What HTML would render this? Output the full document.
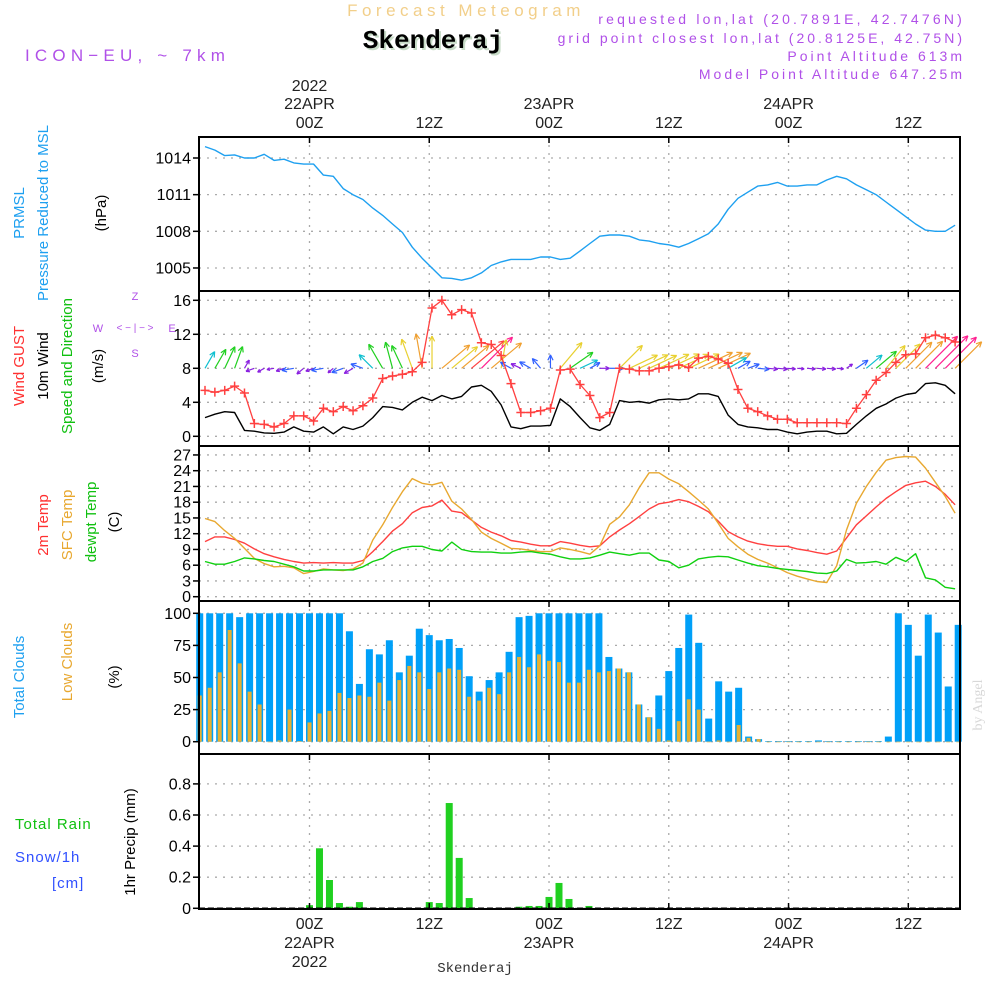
<!DOCTYPE html>
<html><head><meta charset="utf-8"><style>
html,body{margin:0;padding:0;background:#fff;}
svg{display:block;font-family:"Liberation Sans",sans-serif;}
</style></head><body>
<svg id="chart" width="1000" height="1000" viewBox="0 0 1000 1000" xmlns="http://www.w3.org/2000/svg">
<rect width="1000" height="1000" fill="#fff"/>
<g>
<text x="466" y="16" text-anchor="middle" font-size="17" letter-spacing="4.5" fill="#f2cf8a">Forecast Meteogram</text>
<text x="435" y="50" text-anchor="middle" font-size="26" font-weight="bold" font-family="Liberation Mono, monospace" fill="#c8dcc8">Skenderaj</text>
<text x="433" y="48" text-anchor="middle" font-size="26" font-weight="bold" font-family="Liberation Mono, monospace" fill="#000">Skenderaj</text>
<text x="25" y="61" font-size="17" letter-spacing="5.2" fill="#b050e8">ICON−EU, ~ 7km</text>
<text x="965" y="24" text-anchor="end" font-size="14" letter-spacing="3.2" fill="#b050e8">requested lon,lat (20.7891E, 42.7476N)</text>
<text x="965" y="43" text-anchor="end" font-size="14" letter-spacing="3.0" fill="#b050e8">grid point closest lon,lat (20.8125E, 42.75N)</text>
<text x="965" y="61" text-anchor="end" font-size="14" letter-spacing="3.0" fill="#b050e8">Point Altitude 613m</text>
<text x="965" y="79" text-anchor="end" font-size="14" letter-spacing="3.0" fill="#b050e8">Model Point Altitude 647.25m</text>
</g>
<g id="grid"></g>
<g id="marks"></g>
<g id="frames"></g>
<g id="labels"></g>
<g font-size="15">
<text transform="translate(24,213) rotate(-90)" text-anchor="middle" fill="#1ea0f0">PRMSL</text>
<text transform="translate(48,213) rotate(-90)" text-anchor="middle" fill="#1ea0f0">Pressure Reduced to MSL</text>
<text transform="translate(106,213) rotate(-90)" text-anchor="middle" fill="#000">(hPa)</text>
<text transform="translate(24,366) rotate(-90)" text-anchor="middle" fill="#ff3030">Wind GUST</text>
<text transform="translate(48,366) rotate(-90)" text-anchor="middle" fill="#000">10m Wind</text>
<text transform="translate(72,366) rotate(-90)" text-anchor="middle" fill="#10c010">Speed and Direction</text>
<text transform="translate(103,366) rotate(-90)" text-anchor="middle" fill="#000">(m/s)</text>
<g fill="#b050e8" font-size="11">
<text x="135" y="300" text-anchor="middle">Z</text>
<text x="98" y="332" text-anchor="middle">W</text>
<text x="172" y="332" text-anchor="middle">E</text>
<text x="135" y="357" text-anchor="middle">S</text>
<text x="135" y="331" text-anchor="middle" font-size="10">&lt; − | − &gt;</text>
</g>
<text transform="translate(48,525) rotate(-90)" text-anchor="middle" fill="#ff3030">2m Temp</text>
<text transform="translate(72,525) rotate(-90)" text-anchor="middle" fill="#e8a830">SFC Temp</text>
<text transform="translate(96,522) rotate(-90)" text-anchor="middle" fill="#10c010">dewpt Temp</text>
<text transform="translate(119,522) rotate(-90)" text-anchor="middle" fill="#000">(C)</text>
<text transform="translate(24,677) rotate(-90)" text-anchor="middle" fill="#1ea0f0">Total Clouds</text>
<text transform="translate(72,662) rotate(-90)" text-anchor="middle" fill="#e8a830">Low Clouds</text>
<text transform="translate(119,677) rotate(-90)" text-anchor="middle" fill="#000">(%)</text>
<text x="15" y="829" fill="#10c010" letter-spacing="1">Total  Rain</text>
<text x="15" y="862" fill="#3050ff" letter-spacing="1">Snow/1h</text>
<text x="52" y="888" fill="#3050ff" letter-spacing="1">[cm]</text>
<text transform="translate(135,842) rotate(-90)" text-anchor="middle" fill="#000">1hr Precip (mm)</text>
<text transform="translate(982,705) rotate(-90)" text-anchor="middle" font-family="Liberation Serif, serif" font-size="14" fill="#d8d8d8">by Angel</text>
<text x="475" y="972" text-anchor="middle" font-family="Liberation Mono, monospace" font-size="14" fill="#333">Skenderaj</text>
</g>
</svg>
<script>
// ---- data (hourly, first value ~13Z 21APR) ----
const pressure = [1014.93,1014.65,1014.2,1014.25,1014.0,1014.0,1014.3,1013.8,1013.9,1013.6,1013.5,1013.5,1012.6,1012.5,1011.5,1011.0,1010.6,1009.9,1009.3,1008.6,1007.9,1006.7,1005.8,1005.0,1004.2,1004.15,1004.0,1004.2,1004.6,1005.2,1005.5,1005.7,1005.7,1005.7,1005.9,1005.9,1005.7,1005.8,1006.4,1007.0,1007.6,1007.7,1007.7,1007.6,1007.3,1007.2,1007.0,1006.9,1006.7,1007.0,1007.4,1007.8,1008.6,1009.8,1010.7,1011.2,1011.7,1011.8,1012.0,1011.7,1011.7,1011.8,1011.8,1012.2,1012.5,1012.3,1011.8,1011.4,1011.0,1010.4,1009.8,1009.2,1008.6,1008.1,1008.0,1008.0,1008.5];
const gust = [5.4,5.2,5.4,5.9,5.1,1.5,1.4,1.1,1.5,2.4,2.4,1.8,3.3,2.9,3.5,3.0,3.6,4.5,6.8,7.1,7.3,7.6,8.7,15.1,16.0,14.3,14.9,14.5,11.0,10.8,9.5,6.2,2.8,2.8,3.0,3.3,7.8,7.9,6.1,4.8,2.2,2.8,8.0,7.9,7.7,7.7,8.0,8.2,8.4,8.1,9.2,9.4,9.1,8.6,5.5,3.3,2.9,2.4,2.0,2.0,1.6,1.6,1.6,1.6,1.6,1.5,3.3,4.9,6.6,7.5,8.7,9.6,9.7,11.6,11.9,11.6,11.1];
const wind10m = [2.2,2.6,2.9,2.8,0.7,0.6,0.4,0.35,0.5,1.1,0.6,0.5,1.1,0.3,1.1,0.8,1.2,2.2,3.5,3.4,3.1,4.0,4.6,4.2,4.8,4.4,4.7,5.8,6.0,5.3,3.7,1.1,0.9,1.2,1.2,1.3,4.4,3.5,2.2,1.0,0.7,1.4,4.2,4.0,4.1,3.9,4.3,4.4,4.3,4.4,5.0,5.0,4.7,2.5,1.4,1.1,1.0,0.8,0.8,0.5,0.3,0.5,0.6,0.6,0.3,0.35,1.4,2.4,3.3,3.8,4.5,4.9,5.1,6.2,6.3,6.0,5.0];
const windDir = [30,30,25,20,30,250,240,260,250,260,230,250,260,230,250,240,290,315,330,345,335,340,350,0,50,50,50,50,45,50,10,300,295,300,320,0,40,55,65,60,90,90,45,65,65,65,65,65,65,65,65,65,65,60,60,70,95,95,95,95,95,95,95,95,95,55,55,50,50,40,45,45,45,45,45,45,45];
const temp2m = [10.5,11.4,11.4,10.9,10.2,9.1,8.2,7.6,7.1,6.7,6.4,6.5,6.4,6.5,6.4,6.4,6.9,8.6,10.5,12.5,13.9,16.0,17.0,17.3,18.4,16.3,16.0,14.6,13.2,12.3,11.6,10.7,10.4,10.0,9.7,9.7,10.5,10.2,9.8,9.5,9.7,11.4,12.7,13.9,15.3,16.7,17.7,18.0,18.5,18.1,17.2,16.2,14.4,12.4,11.4,10.6,10.1,9.8,9.6,9.6,9.1,8.8,8.4,8.1,8.7,11.2,13.7,15.4,17.1,18.7,20.0,21.2,21.7,22.0,21.0,19.5,17.5];
const tempSfc = [14.9,14.3,12.6,11.1,9.2,7.3,6.3,5.7,5.8,5.5,4.4,4.8,5.3,5.1,5.0,5.3,6.4,10.8,13.7,17.0,20.0,22.5,21.6,21.3,21.8,18.2,16.7,14.7,12.3,11.1,10.2,9.2,9.1,8.8,8.6,8.6,9.3,9.0,8.6,8.1,9.7,13.8,15.2,17.5,20.8,23.6,23.6,22.4,21.5,20.0,18.4,16.7,14.0,11.1,9.5,8.1,7.1,6.4,5.5,4.6,3.9,3.4,2.9,2.7,5.9,12.7,17.8,21.0,23.7,26.0,26.5,26.7,26.6,24.5,21.8,19.1,15.9];
const dewpt = [6.7,6.2,6.2,6.7,7.4,7.2,6.9,6.7,6.2,5.7,4.9,4.9,5.1,5.1,5.1,5.1,5.7,6.7,7.3,8.6,9.3,9.6,9.6,9.0,8.7,10.4,9.0,8.6,8.5,8.5,8.3,8.3,8.5,8.6,8.3,8.1,7.6,7.2,7.2,7.4,7.9,8.5,8.2,7.9,8.3,8.3,7.0,6.7,5.5,6.0,7.2,7.5,7.7,7.6,7.0,6.4,5.9,5.7,5.4,5.2,5.0,4.8,4.5,4.4,4.9,7.1,6.4,6.5,6.7,6.2,7.5,6.7,8.2,3.6,3.2,1.8,1.5];
const totalClouds = [100,100,100,100,97,100,100,100,100,100,100,100,100,100,100,86,45,72,68,79,54,67,88,83,79,80,73,51,39,48,54,70,97,98,100,100,100,100,100,100,100,66,57,54,29,19,36,55,73,99,77,18,47,39,42,4,2,0.5,0.5,0.5,0.5,0.5,1,0.5,0.5,0.5,0.5,0.5,0.5,4,100,91,67,99,85,43,91];
const lowClouds = [36,42,54,87,61,39,29,0,1,25,0.5,15,22,24,38,34,36,35,46,32,48,59,54,41,54,57,56,35,32,42,37,54,66,58,68,63,62,46,46,56,54,55,57,54,29,19,10,1,16,33,25,0,1,0,13,3,2,0,0,0,0,0,0,0,0,0,0,0,0,0,0,0,0,0,0,0,0];
const precipHours = [0,1,2,3,4,5,12,13,14,15,16,21,22,23,24,25,26,28];
const precipValues = [0.02,0.386,0.182,0.034,0.01,0.04,0.04,0.034,0.677,0.324,0.066,0.01,0.015,0.015,0.073,0.163,0.06,0.015];
const pressTicks = [1005,1008,1011,1014];
const windTicks = [0,4,8,12,16];
const tempTicks = [0,3,6,9,12,15,18,21,24,27];
const cloudTicks = [0,25,50,75,100];
const precipTicks = [0,0.2,0.4,0.6,0.8];
const timeTicks = [0,12,24,36,48,60];
const timeLabels = ["00Z","12Z","00Z","12Z","00Z","12Z"];
const dayLabels = ["22APR","","23APR","","24APR",""];
const yearLabels = ["2022","","","","",""];
const firstHour = -11;

// ---- scales ----
const X0=199, X1=960;
const xBar = h => 309.5 + 9.98*h;
const xLine = i => 205 + 9.87*i;
const yP = v => 158 + (1014 - v)*12.22;
const yW = v => 436.3 - v*8.5;
const yT = v => 596.7 - v*5.25;
const yC = v => 741.7 - v*1.284;
const yR = v => 908.3 - v*155.5;
const panels=[[137,291],[291,446],[446,601],[601,754],[754,909]];

const NS="http://www.w3.org/2000/svg";
function mk(tag,attrs,parent){const e=document.createElementNS(NS,tag);for(const k in attrs)e.setAttribute(k,attrs[k]);parent.appendChild(e);return e;}
const grid=document.getElementById('grid'),marks=document.getElementById('marks'),frames=document.getElementById('frames'),labels=document.getElementById('labels');
const dot={stroke:"#aaa","stroke-width":1.3,"stroke-dasharray":"2,6"};

timeTicks.forEach((h,k)=>{
  const x=xBar(h);
  const l=mk('line',Object.assign({x1:x,x2:x,y1:137,y2:909},dot),grid);
  
  
  const tt=mk('text',{x:x,y:128,'text-anchor':'middle','font-size':16,fill:'#222'},labels);tt.textContent=timeLabels[k];
  
  
  if(dayLabels[k]){const d=mk('text',{x:x,y:109,'text-anchor':'middle','font-size':16,fill:'#222'},labels);d.textContent=dayLabels[k];
    
    }
  if(yearLabels[k]){const d=mk('text',{x:x,y:91,'text-anchor':'middle','font-size':16,fill:'#222'},labels);d.textContent=yearLabels[k];
    
    }
  const bt=mk('text',{x:x,y:929,'text-anchor':'middle','font-size':16,fill:'#222'},labels);bt.textContent=timeLabels[k];
  
  
  if(dayLabels[k]){const d=mk('text',{x:x,y:948,'text-anchor':'middle','font-size':16,fill:'#222'},labels);d.textContent=dayLabels[k];
    
    }
  if(yearLabels[k]){const d=mk('text',{x:x,y:967,'text-anchor':'middle','font-size':16,fill:'#222'},labels);d.textContent=yearLabels[k];
    
    }
  [137,291,446,601,754].forEach(y=>{mk('line',{x1:x,x2:x,y1:y,y2:y+6,stroke:'#000','stroke-width':1.5},frames);});
  mk('line',{x1:x,x2:x,y1:909,y2:903,stroke:'#000','stroke-width':1.5},frames);
});

function yAxis(ticks,ys,fmt,name){
  ticks.forEach(v=>{
    const y=ys(v);
    const g=mk('line',Object.assign({x1:X0,x2:X1,y1:y,y2:y},dot),grid);
    
    
    mk('line',{x1:X0,x2:X0-6,y1:y,y2:y,stroke:'#000','stroke-width':1.5},frames);
    const t=mk('text',{x:191,y:y+5.5,'text-anchor':'end','font-size':16,fill:'#000'},labels);
    t.textContent=fmt(v);
    
    
  });
}
yAxis(pressTicks,yP,v=>String(v),'pressure');
yAxis(windTicks,yW,v=>String(v),'wind');
yAxis(tempTicks,yT,v=>String(v),'temp');
yAxis(cloudTicks,yC,v=>String(v),'cloud');
yAxis(precipTicks,yR,v=>v===0?'0':v.toFixed(1),'precip');

function line(arr,ys,color,name,w){
  const pts=arr.map((v,i)=>xLine(i).toFixed(1)+','+ys(v).toFixed(1)).join(' ');
  const p=mk('polyline',{points:pts,fill:'none',stroke:color,'stroke-width':w||1.4,'stroke-linejoin':'round'},marks);
  
  
}
line(pressure,yP,'#1ea0f0','pressure-line');

function spdColor(s){
  if(s<1)return '#8a20e0'; if(s<1.5)return '#3060ff'; if(s<2.6)return '#10c0d0';
  if(s<3.6)return '#20d020'; if(s<4.6)return '#e8d030'; if(s<5.6)return '#f0a030';
  if(s<6)return '#ff4040'; return '#ff2090';
}
windDir.forEach((d,i)=>{
  const s=wind10m[i], L=5+6.5*s, a=d*Math.PI/180;
  const x0=xLine(i), y0=yW(8);
  const x1=x0+L*Math.sin(a), y1=y0-L*Math.cos(a);
  const c=spdColor(s);
  const g=mk('g',{stroke:c,'stroke-width':1.2,fill:'none'},marks);
  
  
  mk('line',{x1:x0,y1:y0,x2:x1,y2:y1},g);
  const hl=Math.min(6,L*0.45);
  [a+Math.PI-0.45,a+Math.PI+0.45].forEach(b=>{mk('line',{x1:x1,y1:y1,x2:x1+hl*Math.sin(b),y2:y1-hl*Math.cos(b)},g);});
});
line(wind10m,yW,'#000','wind-speed-line',1.4);
line(gust,yW,'#ff4040','gust-line',1.3);
gust.forEach((v,i)=>{
  const x=xLine(i),y=yW(v);
  const g=mk('path',{d:`M${x-4.5},${y}H${x+4.5}M${x},${y-4.5}V${y+4.5}`,stroke:'#ff4040','stroke-width':1.5},marks);
  
  
});

line(temp2m,yT,'#ff4040','temp-2m-line');
line(tempSfc,yT,'#e8a830','temp-sfc-line');
line(dewpt,yT,'#10d010','dewpt-line');

totalClouds.forEach((v,i)=>{
  const h=firstHour+i, x=xBar(h);
  const b=mk('rect',{x:x-3.5,y:yC(v),width:7,height:yC(0)-yC(v),fill:'#00a0f8'},marks);
  
  
});
lowClouds.forEach((v,i)=>{
  const h=firstHour+i, x=xBar(h);
  const b=mk('rect',{x:x-2,y:yC(v),width:4,height:Math.max(0.6,yC(0)-yC(v)),fill:'#e8b030'},marks);
  
  
});
precipHours.forEach((h,k)=>{
  const v=precipValues[k], x=xBar(h);
  const b=mk('rect',{x:x-3.5,y:yR(v),width:7,height:yR(0)-yR(v),fill:'#20d020'},marks);
  
  
});
mk('line',{x1:X0,x2:X1,y1:yR(0),y2:yR(0),stroke:'#000','stroke-width':1.5,'stroke-dasharray':'6,3'},marks);

panels.forEach(([a,b],k)=>{
  const r=mk('rect',{x:X0,y:a,width:X1-X0,height:b-a,fill:'none',stroke:'#000','stroke-width':2},frames);
  
  
});
</script>
</body></html>
